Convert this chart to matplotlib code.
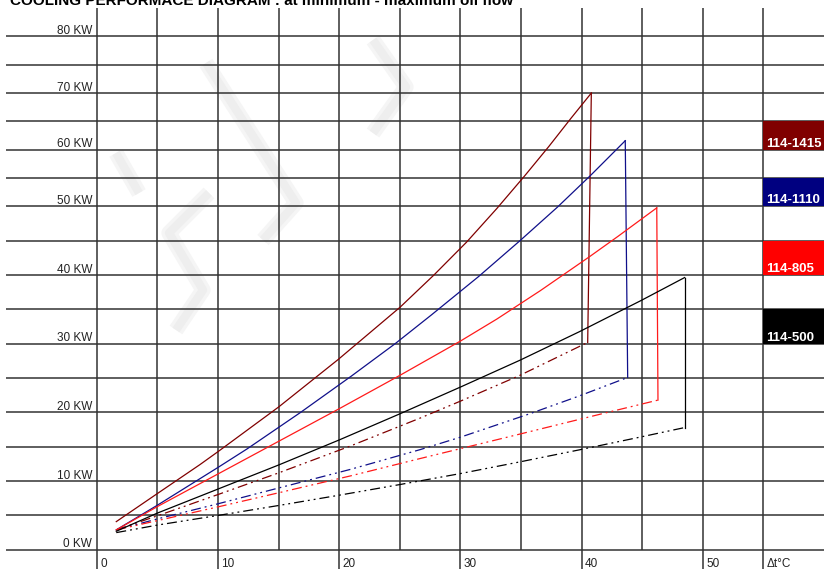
import numpy as np
import matplotlib
matplotlib.use("Agg")
import matplotlib.pyplot as plt
from matplotlib.patches import Rectangle

plt.rcParams["font.family"] = ["Liberation Sans", "DejaVu Sans"]

# ── data (x = delta t in C, y = kW) ───────────────────────────────────
models = ["114-1415", "114-1110", "114-805", "114-500"]
colors = ["#800000", "#10108a", "#ff1a1a", "#000000"]
box_colors = ["#800000", "#000080", "#ff0000", "#000000"]
box_low = [60, 50, 40, 30]          # kW band of each legend box

# maximum oil flow (solid)
max_x_1415 = [1.6, 5, 8.5, 10, 15, 19.9, 25, 27.8, 30.5, 33.0, 35.3, 37.3, 39.1, 40.8]
max_y_1415 = [4.1, 8.2, 12.4, 14.3, 20.8, 27.7, 35.3, 40.0, 44.8, 49.7, 55.4, 60.6, 65.5, 70.0]
max_x_1110 = [1.6, 5, 10, 12.4, 16.8, 21.0, 24.6, 27.6, 31.5, 34.9, 38.0, 40.7, 42.9, 43.6]
max_y_1110 = [2.9, 6.5, 12.0, 14.7, 20.0, 25.3, 30.0, 34.2, 39.8, 45.0, 49.9, 55.4, 60.1, 61.6]
max_x_805 = [1.6, 5, 10, 15, 20, 25, 30, 33.0, 36.6, 40.7, 43.0, 46.2]
max_y_805 = [2.9, 6.3, 11.05, 15.8, 20.55, 25.4, 30.4, 33.6, 37.75, 42.75, 45.65, 49.8]
max_x_500 = [1.6, 5, 10, 15, 20, 25, 30, 34.9, 39.8, 44.9, 48.5]
max_y_500 = [2.7, 5.35, 8.85, 12.35, 16.0, 19.8, 23.7, 27.6, 31.75, 36.3, 39.65]

# minimum oil flow (dash-dot-dot)
min_x_1415 = [1.6, 5, 10, 15, 20.9, 26.7, 30, 34.9, 40.5]
min_y_1415 = [2.9, 4.95, 8.05, 11.2, 15.1, 19.2, 21.65, 25.4, 30.2]
min_x_1110 = [1.6, 5, 10, 15, 20.9, 26.7, 30, 35.7, 39.8, 43.8]
min_y_1110 = [2.9, 4.5, 6.7, 9.0, 11.7, 14.6, 16.4, 19.8, 22.4, 25.1]
min_x_805 = [1.6, 5, 10, 15, 20.9, 26.7, 34.9, 42.0, 46.3]
min_y_805 = [2.9, 4.25, 6.25, 8.3, 10.75, 13.3, 16.85, 19.95, 21.8]
min_x_500 = [1.6, 5, 10, 15, 20, 25, 30, 34.9, 39.8, 44.8, 48.5]
min_y_500 = [2.5, 3.6, 5.0, 6.45, 7.95, 9.5, 11.1, 12.8, 14.55, 16.4, 17.8]

max_curves = [(max_x_1415, max_y_1415), (max_x_1110, max_y_1110),
              (max_x_805, max_y_805), (max_x_500, max_y_500)]
min_curves = [(min_x_1415, min_y_1415), (min_x_1110, min_y_1110),
              (min_x_805, min_y_805), (min_x_500, min_y_500)]

kw_ticks = [0, 10, 20, 30, 40, 50, 60, 70, 80]
dt_ticks = [0, 10, 20, 30, 40, 50]
title = "COOLING PERFORMACE DIAGRAM : at minimum - maximum oil flow"

# the kW axis is squeezed above 50 kW
R = 0.826

def fwd(y):
    y = np.asarray(y, float)
    return np.where(y <= 50, y, 50 + (y - 50) * R)

def inv(y):
    y = np.asarray(y, float)
    return np.where(y <= 50, y, 50 + (y - 50) / R)


fig = plt.figure(figsize=(8.24, 5.69), dpi=100)
ax = fig.add_axes([6 / 824, 0, 1 - 6 / 824, 1 - 8 / 569])
ax.set_yscale("function", functions=(fwd, inv))
ax.set_xlim(-7.5, 60)
ax.set_ylim(-2.8, 85)
ax.axis("off")

# faint watermark strokes (figure pixels)
marks = [[(116, 153), (139, 193)],
         [(209, 193), (169, 233), (203, 290), (176, 330)],
         [(206, 63), (296, 203), (263, 240)],
         [(373, 40), (406, 87), (373, 133)]]
for m in marks:
    px = np.array(m, float)
    for lw, c in [(11, "#f5f5f5"), (6, "#eeeeee")]:
        ax.plot(px[:, 0] / 824, 1 - px[:, 1] / 569, color=c, lw=lw,
                transform=fig.transFigure, solid_capstyle="butt", zorder=0.5)

# grid
grid_c = "#333333"
ax.hlines(np.arange(0, 81, 5), -7.5, 60, colors=grid_c, lw=1.1, zorder=1)
ax.vlines(np.arange(0, 56, 5), 0, 85, colors=grid_c, lw=1.1, zorder=1)
ax.vlines(dt_ticks + [55], -2.8, 0, colors=grid_c, lw=1.1, zorder=1)

for v in kw_ticks:
    ax.annotate(f"{v} KW", (0, v), xytext=(-3.5, 1.8), textcoords="offset points",
                ha="right", va="baseline", fontsize=8.5, color="#222222")
for v in dt_ticks:
    ax.annotate(str(v), (v, 0), xytext=(2.5, -12.6), textcoords="offset points",
                ha="left", va="baseline", fontsize=8.5, color="#222222")
ax.annotate("\u0394t\u00b0C", (55, 0), xytext=(2.5, -12.6), textcoords="offset points",
            ha="left", va="baseline", fontsize=8.5, color="#222222")

# curves
dashes = (0, (8, 3.2, 1.5, 3.2, 1.5, 3.2))
for (mx, my), (nx, ny), c in zip(max_curves, min_curves, colors):
    ax.plot(mx, my, color=c, lw=0.9, zorder=3)
    ax.plot([mx[-1], nx[-1]], [my[-1], ny[-1]], color=c, lw=0.9, zorder=3)
    ax.plot(nx, ny, color=c, lw=0.9, ls=dashes, zorder=3)

# legend boxes
for name, c, lo in zip(models, box_colors, box_low):
    ax.add_patch(Rectangle((55, lo), 5, 5, facecolor=c, edgecolor="none", zorder=4))
    ax.annotate(name, (55, lo), xytext=(2.3, 2.2), textcoords="offset points",
                ha="left", va="baseline", fontsize=9.5, fontweight="bold",
                color="white", zorder=5)

fig.text(10 / 824, 1 - 5 / 569, title, fontsize=11, fontweight="bold",
         ha="left", va="baseline")

fig.savefig("out.png", dpi=100)
